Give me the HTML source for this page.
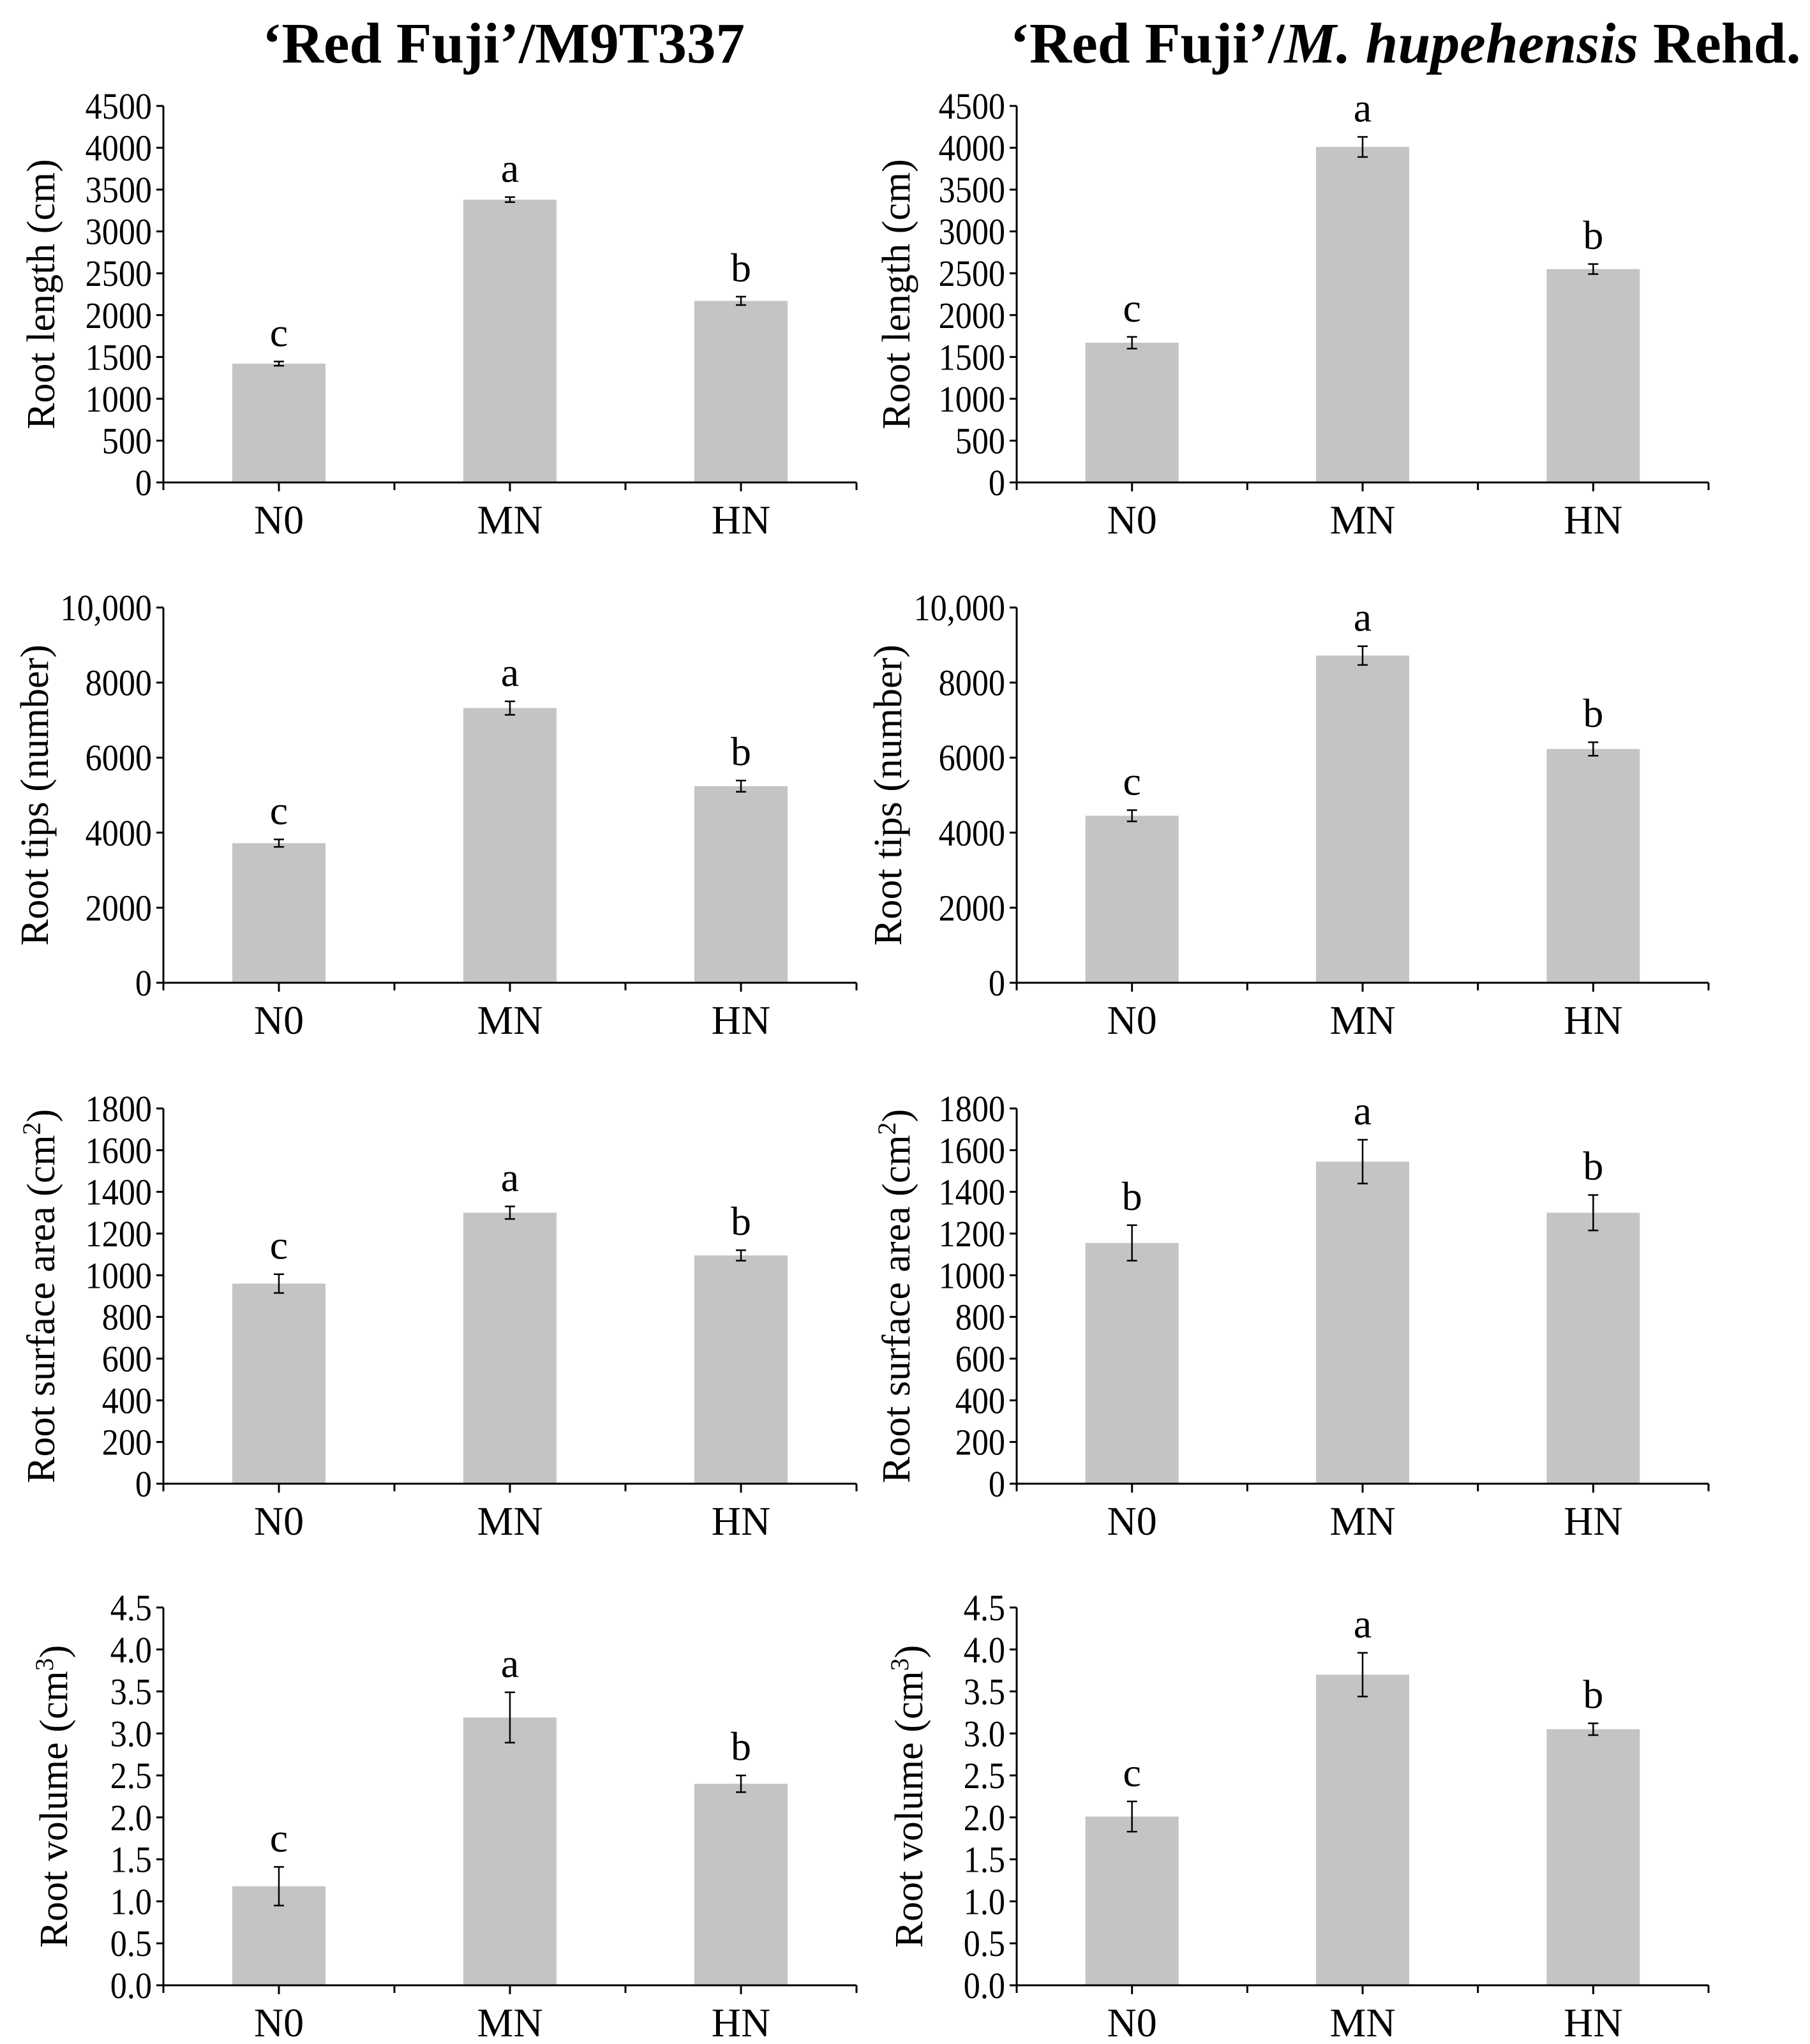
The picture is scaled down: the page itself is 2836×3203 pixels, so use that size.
<!DOCTYPE html>
<html><head><meta charset="utf-8"><style>
html,body{margin:0;padding:0;background:#fff}
svg{display:block}
text{font-family:"Liberation Serif",serif;fill:#000}
</style></head><body>
<svg id="fig" xmlns="http://www.w3.org/2000/svg" width="2836" height="3203" viewBox="0 0 2836 3203">
<text x="789" y="98" text-anchor="middle" font-size="90" font-weight="bold" textLength="756" lengthAdjust="spacingAndGlyphs">‘Red Fuji’/M9T337</text>
<text x="2202" y="98" text-anchor="middle" font-size="90" font-weight="bold" textLength="1239" lengthAdjust="spacingAndGlyphs">‘Red Fuji’/<tspan font-style="italic">M. hupehensis</tspan> Rehd.</text>
<g id="charts"></g>
</svg>
<script>
const categories = ["N0","MN","HN"];
// Row 1: root length
const lenLeft = [1420, 3380, 2170];
const lenLeftErr = [25, 30, 50];
const lenRight = [1670, 4010, 2550];
const lenRightErr = [70, 120, 60];
const lenTicks = [0,500,1000,1500,2000,2500,3000,3500,4000,4500];
const lenTickLabels = ["0","500","1000","1500","2000","2500","3000","3500","4000","4500"];
// Row 2: root tips
const tipsLeft = [3720, 7320, 5240];
const tipsLeftErr = [100, 180, 150];
const tipsRight = [4450, 8720, 6230];
const tipsRightErr = [150, 250, 180];
const tipsTicks = [0,2000,4000,6000,8000,10000];
const tipsTickLabels = ["0","2000","4000","6000","8000","10,000"];
// Row 3: surface area
const areaLeft = [960, 1300, 1095];
const areaLeftErr = [45, 30, 25];
const areaRight = [1155, 1545, 1300];
const areaRightErr = [85, 105, 85];
const areaTicks = [0,200,400,600,800,1000,1200,1400,1600,1800];
const areaTickLabels = ["0","200","400","600","800","1000","1200","1400","1600","1800"];
// Row 4: volume
const volLeft = [1.18, 3.19, 2.40];
const volLeftErr = [0.23, 0.30, 0.10];
const volRight = [2.01, 3.70, 3.05];
const volRightErr = [0.18, 0.26, 0.07];
const volTicks = [0,0.5,1,1.5,2,2.5,3,3.5,4,4.5];
const volTickLabels = ["0.0","0.5","1.0","1.5","2.0","2.5","3.0","3.5","4.0","4.5"];
// letters
const lettersLenL = ["c","a","b"], lettersLenR = ["c","a","b"];
const lettersTipsL = ["c","a","b"], lettersTipsR = ["c","a","b"];
const lettersAreaL = ["c","a","b"], lettersAreaR = ["b","a","b"];
const lettersVolL = ["c","a","b"], lettersVolR = ["c","a","b"];

const NS = "http://www.w3.org/2000/svg";
const root = document.getElementById("charts");
function mk(tag, attrs, parent){
  const e = document.createElementNS(NS, tag);
  for (const k in attrs) e.setAttribute(k, attrs[k]);
  parent.appendChild(e); return e;
}
function chart(name, x0, x1, yTop, yBot, maxV, vals, errs, ticks, tlabels, letters, title, sup, titleX){
  const g = mk("g", {}, root);
  
  
  const ys = v => yBot - (v / maxV) * (yBot - yTop);
  const w = (x1 - x0) / categories.length;
  const xs = i => x0 + w * (i + 0.5);
  vals.forEach((v, i) => {
    const b = mk("rect", {x: xs(i) - 73, y: ys(v), width: 146, height: yBot - ys(v), fill: "#c4c4c4"}, g);
    
    
    const t = ys(v + errs[i]), bo = ys(v - errs[i]);
    const eb = mk("path", {d: `M${xs(i)} ${t}V${bo}M${xs(i)-8} ${t}H${xs(i)+8}M${xs(i)-8} ${bo}H${xs(i)+8}`, stroke: "#000", "stroke-width": 2.5, fill: "none"}, g);
    
    
    const lt = mk("text", {x: xs(i), y: t - 24, "text-anchor": "middle", "font-size": 64}, g);
    lt.textContent = letters[i];
    
    
    const cl = mk("text", {x: xs(i), y: yBot + 80, "text-anchor": "middle", "font-size": 64}, g);
    cl.textContent = categories[i];
    
    
  });
  const ax = mk("path", {d: `M${x0} ${yTop}V${yBot}H${x1}`, stroke: "#000", "stroke-width": 3, fill: "none"}, g);
  
  
  let td = "";
  ticks.forEach(v => { td += `M${x0-11} ${ys(v)}H${x0}`; });
  for (let i = 0; i <= categories.length; i++) td += `M${x0 + w*i} ${yBot}V${yBot+12}`;
  categories.forEach((c, i) => { td += `M${xs(i)} ${yBot}V${yBot+14}`; });
  const tk = mk("path", {d: td, stroke: "#000", "stroke-width": 3}, g);
  
  
  ticks.forEach((v, i) => {
    const l = mk("text", {x: 0, y: 0, "text-anchor": "end", "font-size": 58, transform: `translate(${x0 - 18},${ys(v) + 20}) scale(0.9,1)`}, g);
    l.textContent = tlabels[i];
    
    
  });
  const cy = (yTop + yBot) / 2;
  const yt = mk("text", {x: 0, y: 0, "text-anchor": "middle", "font-size": 62, transform: `translate(${titleX},${cy}) rotate(-90)`}, g);
  yt.textContent = title;
  if (sup) {
    const s = mk("tspan", {"baseline-shift": "super", "font-size": 40}, yt); s.textContent = sup;
    const c = mk("tspan", {}, yt); c.textContent = ")";
  }
  
  
}
const L0 = 256, L1 = 1342, R0 = 1593, R1 = 2677;
chart("root-length-chart-left", L0, L1, 166, 756, 4500, lenLeft, lenLeftErr, lenTicks, lenTickLabels, lettersLenL, "Root length (cm)", null, 85);
chart("root-length-chart-right", R0, R1, 166, 756, 4500, lenRight, lenRightErr, lenTicks, lenTickLabels, lettersLenR, "Root length (cm)", null, 1425);
chart("root-tips-chart-left", L0, L1, 952, 1540, 10000, tipsLeft, tipsLeftErr, tipsTicks, tipsTickLabels, lettersTipsL, "Root tips (number)", null, 75);
chart("root-tips-chart-right", R0, R1, 952, 1540, 10000, tipsRight, tipsRightErr, tipsTicks, tipsTickLabels, lettersTipsR, "Root tips (number)", null, 1412);
chart("root-area-chart-left", L0, L1, 1737, 2325, 1800, areaLeft, areaLeftErr, areaTicks, areaTickLabels, lettersAreaL, "Root surface area (cm", "2", 85);
chart("root-area-chart-right", R0, R1, 1737, 2325, 1800, areaRight, areaRightErr, areaTicks, areaTickLabels, lettersAreaR, "Root surface area (cm", "2", 1425);
chart("root-volume-chart-left", L0, L1, 2519, 3111, 4.5, volLeft, volLeftErr, volTicks, volTickLabels, lettersVolL, "Root volume (cm", "3", 105);
chart("root-volume-chart-right", R0, R1, 2519, 3111, 4.5, volRight, volRightErr, volTicks, volTickLabels, lettersVolR, "Root volume (cm", "3", 1445);
</script>
</body></html>
